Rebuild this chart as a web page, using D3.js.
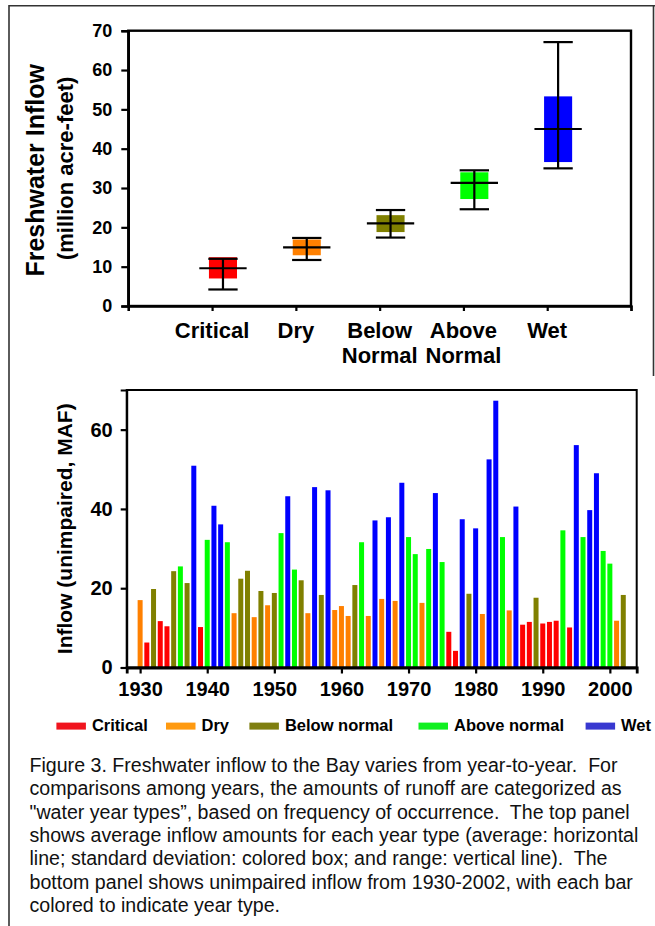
<!DOCTYPE html>
<html>
<head>
<meta charset="utf-8">
<script src="https://cdn.jsdelivr.net/npm/d3@7"></script>
<style>
  html, body { margin: 0; padding: 0; background: #fff; }
  svg { display: block; }
  text { font-family: "Liberation Sans", Arial, sans-serif; }
</style>
</head>
<body>
<svg id="chart" width="655" height="926"></svg>
<script>
// ---------- DATA ----------
// Top panel: year-type summary
const categories = ["Critical", "Dry", "Below Normal", "Above Normal", "Wet"];
const typeCodes  = ["C", "D", "BN", "AN", "W"];
const meanFlow   = [9.6, 14.9, 21.0, 31.3, 45.0];
const sdLow      = [7.0, 12.9, 18.8, 27.2, 36.6];
const sdHigh     = [12.4, 16.9, 23.1, 34.0, 53.3];
const rangeMin   = [4.2, 11.7, 17.4, 24.6, 35.0];
const rangeMax   = [12.0, 17.3, 24.4, 34.5, 67.1];
const topYTicks  = [0, 10, 20, 30, 40, 50, 60, 70];

// Bottom panel: annual unimpaired inflow 1930-2002
const years = d3.range(1930, 2003);
const inflow = [17.0, 6.3, 19.8, 11.7, 10.4, 24.3, 25.5, 21.3, 50.9, 10.2,
                32.2, 40.8, 36.1, 31.6, 13.7, 22.4, 24.4, 12.7, 19.3, 15.7,
                18.8, 33.9, 43.2, 24.7, 22.0, 13.7, 45.5, 18.3, 44.7, 14.5,
                15.5, 13.0, 20.8, 31.6, 13.0, 37.1, 17.3, 37.9, 16.8, 46.6,
                32.9, 28.6, 16.3, 29.9, 44.0, 26.6, 9.0, 4.2, 37.4, 18.6,
                35.1, 13.5, 52.5, 67.3, 32.9, 14.4, 40.6, 10.8, 11.5, 17.6,
                11.1, 11.5, 11.8, 34.6, 10.1, 56.1, 32.9, 39.7, 49.0, 29.4,
                26.2, 11.8, 18.3];
const yearType = ["D","C","BN","C","C","BN","AN","BN","W","C",
                  "AN","W","W","AN","D","BN","BN","D","BN","D",
                  "BN","AN","W","AN","BN","D","W","BN","W","D",
                  "D","D","BN","AN","D","W","D","W","D","W",
                  "AN","AN","D","AN","W","AN","C","C","W","BN",
                  "W","D","W","W","AN","D","W","C","C","BN",
                  "C","C","C","AN","C","W","AN","W","W","AN",
                  "AN","D","BN"];
const bottomYTicks = [0, 20, 40, 60];
const bottomXTicks = [1930, 1940, 1950, 1960, 1970, 1980, 1990, 2000];

const legendLabels = ["Critical", "Dry", "Below normal", "Above normal", "Wet"];

const captionLines = [
  "Figure 3. Freshwater inflow to the Bay varies from year-to-year.  For",
  "comparisons among years, the amounts of runoff are categorized as",
  "\"water year types\u201d, based on frequency of occurrence.  The top panel",
  "shows average inflow amounts for each year type (average: horizontal",
  "line; standard deviation: colored box; and range: vertical line).  The",
  "bottom panel shows unimpaired inflow from 1930-2002, with each bar",
  "colored to indicate year type."
];

// ---------- STYLE ----------
const colorOf = d3.scaleOrdinal()
  .domain(typeCodes)
  .range(["#ff0000", "#ff8000", "#808000", "#00ff00", "#0000ff"]);
const legendColor = d3.scaleOrdinal()
  .domain(typeCodes)
  .range(["#f0141e", "#ff9a10", "#7f7f10", "#10f020", "#3838d0"]);

const svg = d3.select("#chart");

// document frame
svg.append("line").attr("x1", 9).attr("x2", 655).attr("y1", 5.8).attr("y2", 5.8)
  .attr("stroke", "#333").attr("stroke-width", 1.6);
svg.append("line").attr("x1", 9).attr("x2", 9).attr("y1", 5).attr("y2", 926)
  .attr("stroke", "#333").attr("stroke-width", 1.6);
svg.append("line").attr("x1", 653.5).attr("x2", 653.5).attr("y1", 5).attr("y2", 376)
  .attr("stroke", "#333").attr("stroke-width", 1.6);

// ---------- TOP PANEL ----------
const T = { left: 128.3, right: 631, top: 30.7, bottom: 306 };
const xT = d3.scaleLinear().domain([0, 6]).range([T.left, T.right]);
const yT = d3.scaleLinear().domain([0, 70]).range([T.bottom, T.top]);
const gTop = svg.append("g");

gTop.append("rect").attr("x", T.left).attr("y", T.top)
  .attr("width", T.right - T.left).attr("height", T.bottom - T.top)
  .attr("fill", "none").attr("stroke", "#000").attr("stroke-width", 2.4);

const yAxT = gTop.append("g").attr("transform", `translate(${T.left},0)`)
  .call(d3.axisLeft(yT).tickValues(topYTicks).tickSize(7).tickPadding(9).tickFormat(d3.format("d")));
yAxT.select(".domain").attr("stroke-width", 2.4);
yAxT.selectAll(".tick line").attr("stroke-width", 2.2);
yAxT.selectAll(".tick text").attr("font-size", 18).attr("font-weight", "bold").attr("fill", "#000");

const xAxT = gTop.append("g").attr("transform", `translate(0,${T.bottom})`)
  .call(d3.axisBottom(xT).tickValues([0, 1, 2, 3, 4, 5, 6]).tickSize(5).tickFormat(""));
xAxT.select(".domain").attr("stroke-width", 2.4);
xAxT.selectAll(".tick line").attr("stroke-width", 2.2);

categories.forEach((c, i) => {
  const words = c.split(" ");
  const t = gTop.append("text")
    .attr("x", xT(i + 1)).attr("y", 337.5)
    .attr("text-anchor", "middle").attr("font-size", 22).attr("font-weight", "bold");
  words.forEach((w, j) => {
    t.append("tspan").attr("x", xT(i + 1)).attr("dy", j === 0 ? 0 : 25.5).text(w);
  });
});

gTop.append("text")
  .attr("transform", `translate(44,${(T.top + T.bottom) / 2 + 2}) rotate(-90)`)
  .attr("text-anchor", "middle").attr("font-size", 25).attr("font-weight", "bold")
  .text("Freshwater Inflow");
gTop.append("text")
  .attr("transform", `translate(73,${(T.top + T.bottom) / 2}) rotate(-90)`)
  .attr("text-anchor", "middle").attr("font-size", 22).attr("font-weight", "bold")
  .text("(million acre-feet)");

const off = 0.13, boxW = 0.335, meanW = 0.565, capW = 0.35;
const gMarks = gTop.append("g");
categories.forEach((c, i) => {
  const cx = i + 1 + off;
  gMarks.append("rect")
    .attr("x", xT(cx - boxW / 2)).attr("width", xT(boxW) - xT(0))
    .attr("y", yT(sdHigh[i])).attr("height", yT(sdLow[i]) - yT(sdHigh[i]))
    .attr("fill", colorOf(typeCodes[i]));
  const line = (x1, y1, x2, y2) => gMarks.append("line")
    .attr("x1", x1).attr("y1", y1).attr("x2", x2).attr("y2", y2)
    .attr("stroke", "#000").attr("stroke-width", 2.2);
  line(xT(cx), yT(rangeMin[i]), xT(cx), yT(rangeMax[i]));
  line(xT(cx - capW / 2), yT(rangeMin[i]), xT(cx + capW / 2), yT(rangeMin[i]));
  line(xT(cx - capW / 2), yT(rangeMax[i]), xT(cx + capW / 2), yT(rangeMax[i]));
  line(xT(cx - meanW / 2), yT(meanFlow[i]), xT(cx + meanW / 2), yT(meanFlow[i]));
});

// ---------- BOTTOM PANEL ----------
const B = { left: 126.7, right: 636.7, top: 390, bottom: 667.5 };
const xB = d3.scaleLinear().domain([1928, 2004]).range([B.left, B.right]);
const yB = d3.scaleLinear().domain([0, 70]).range([B.bottom, B.top]);
const gBot = svg.append("g");
const barW = 5;

gBot.selectAll("rect.bar").data(years).join("rect")
  .attr("class", "bar")
  .attr("x", (d) => xB(d) - barW / 2)
  .attr("width", barW)
  .attr("y", (d, i) => yB(inflow[i]))
  .attr("height", (d, i) => yB(0) - yB(inflow[i]))
  .attr("fill", (d, i) => colorOf(yearType[i]));

gBot.append("rect").attr("x", B.left).attr("y", B.top)
  .attr("width", B.right - B.left).attr("height", B.bottom - B.top)
  .attr("fill", "none").attr("stroke", "#000").attr("stroke-width", 2);

const yAxB = gBot.append("g").attr("transform", `translate(${B.left},0)`)
  .call(d3.axisLeft(yB).tickValues(bottomYTicks).tickSize(6).tickPadding(8).tickFormat(d3.format("d")));
yAxB.select(".domain").attr("stroke-width", 2);
yAxB.selectAll(".tick line").attr("stroke-width", 2.2);
yAxB.selectAll(".tick text").attr("font-size", 20).attr("font-weight", "bold").attr("fill", "#000");

const xAxB = gBot.append("g").attr("transform", `translate(0,${B.bottom})`)
  .call(d3.axisBottom(xB).tickValues(bottomXTicks).tickSize(6).tickPadding(8).tickFormat(d3.format("d")));
xAxB.select(".domain").attr("stroke-width", 2.8);
xAxB.selectAll(".tick line").attr("stroke-width", 2.2);
xAxB.selectAll(".tick text").attr("font-size", 20).attr("font-weight", "bold").attr("fill", "#000");

gBot.append("text")
  .attr("transform", `translate(72,${(B.top + B.bottom) / 2}) rotate(-90)`)
  .attr("text-anchor", "middle").attr("font-size", 21).attr("font-weight", "bold")
  .text("Inflow (unimpaired, MAF)");

// ---------- LEGEND ----------
const legendX = [56.4, 166, 249.4, 418.5, 585.6];
const gLeg = svg.append("g");
legendLabels.forEach((lab, i) => {
  gLeg.append("rect").attr("x", legendX[i]).attr("y", 722.6)
    .attr("width", 29.5).attr("height", 7)
    .attr("fill", legendColor(typeCodes[i]));
  gLeg.append("text").attr("x", legendX[i] + 35.5).attr("y", 731)
    .attr("font-size", 16.5).attr("font-weight", "bold").text(lab);
});

// ---------- CAPTION ----------
const gCap = svg.append("g");
captionLines.forEach((l, i) => {
  gCap.append("text").attr("x", 29.5).attr("y", 772 + i * 23.3)
    .attr("font-size", 19.6).style("white-space", "pre")
    .attr("fill", "#111").text(l);
});
</script>
</body>
</html>
